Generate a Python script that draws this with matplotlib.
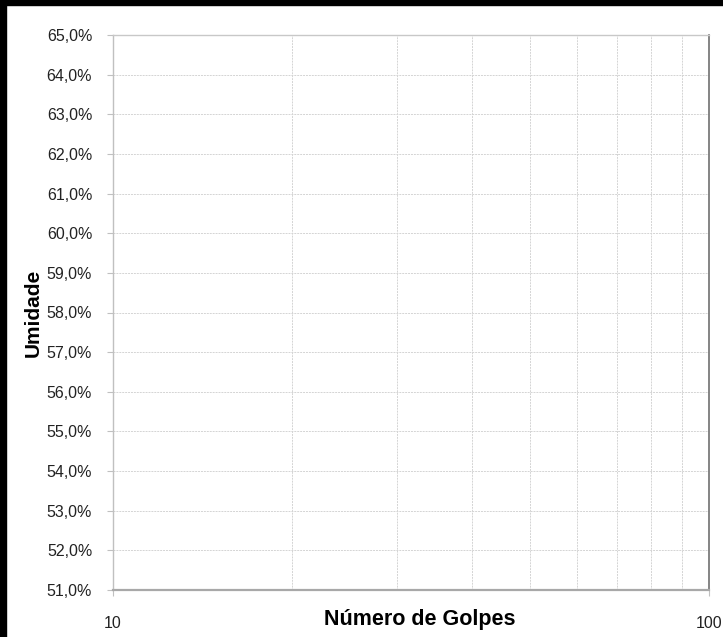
import matplotlib
matplotlib.use("Agg")
import matplotlib.pyplot as plt
from matplotlib.patches import Rectangle
from matplotlib.ticker import FixedLocator, NullFormatter

plt.rcParams['font.family'] = ['Liberation Sans', 'DejaVu Sans']

# DATA
x_limits = [10, 100]
x_ticks = [10, 100]
x_tick_labels = ["10", "100"]
x_grid = [20, 30, 40, 50, 60, 70, 80, 90]
y_ticks = [0.51, 0.52, 0.53, 0.54, 0.55, 0.56, 0.57, 0.58, 0.59, 0.60, 0.61, 0.62, 0.63, 0.64, 0.65]
y_tick_labels = [f"{v*100:.1f}%".replace(".", ",") for v in y_ticks]
x_label = "Número de Golpes"
y_label = "Umidade"

# FIGURE
W, H = 723, 637
fig = plt.figure(figsize=(W/100, H/100), dpi=100)
ax = fig.add_axes([113/W, 1 - 590/H, (709-113)/W, (590-35)/H])

ax.set_xscale('log')
ax.set_xlim(*x_limits)
ax.set_ylim(y_ticks[0], y_ticks[-1])

ax.xaxis.set_major_locator(FixedLocator(x_ticks))
ax.xaxis.set_minor_locator(FixedLocator(x_grid))
ax.xaxis.set_minor_formatter(NullFormatter())
ax.set_xticklabels(x_tick_labels)
ax.set_yticks(y_ticks)
ax.set_yticklabels(y_tick_labels)

grid_kw = dict(color='#d4d4d4', linestyle=(0, (2, 1)), linewidth=0.7)
for v in y_ticks[1:-1]:
    ax.axhline(v, **grid_kw, zorder=0)
for v in x_grid:
    ax.axvline(v, **grid_kw, zorder=0)

ax.tick_params(axis='y', which='major', length=4, color='#c0c0c0', pad=11, labelsize=11.5, labelcolor='#222222')
ax.tick_params(axis='x', which='major', length=4, color='#c0c0c0', pad=15, labelsize=11.5, labelcolor='#222222')
ax.tick_params(axis='x', which='minor', length=0)

ax.spines['left'].set_color('#c0c0c0')
ax.spines['left'].set_linewidth(1.0)
ax.spines['top'].set_color('#c8c8c8')
ax.spines['top'].set_linewidth(1.0)
ax.spines['bottom'].set_color('#a8a8a8')
ax.spines['bottom'].set_linewidth(1.6)
ax.spines['right'].set_color('#707070')
ax.spines['right'].set_linewidth(1.2)

fig.text(420/W, 1 - 619/H, x_label, ha='center', va='center', fontsize=15.5, fontweight='bold')
fig.text(33/W, 1 - 313/H, y_label, ha='center', va='center', rotation=90, fontsize=15, fontweight='bold')

# black frame on the top and left edges
fig.add_artist(Rectangle((0, 0), 6/W, 1, transform=fig.transFigure, color='black', zorder=10))
fig.add_artist(Rectangle((0, 1 - 5/H), 1, 5/H, transform=fig.transFigure, color='black', zorder=10))

fig.savefig("out.png", dpi=100)
